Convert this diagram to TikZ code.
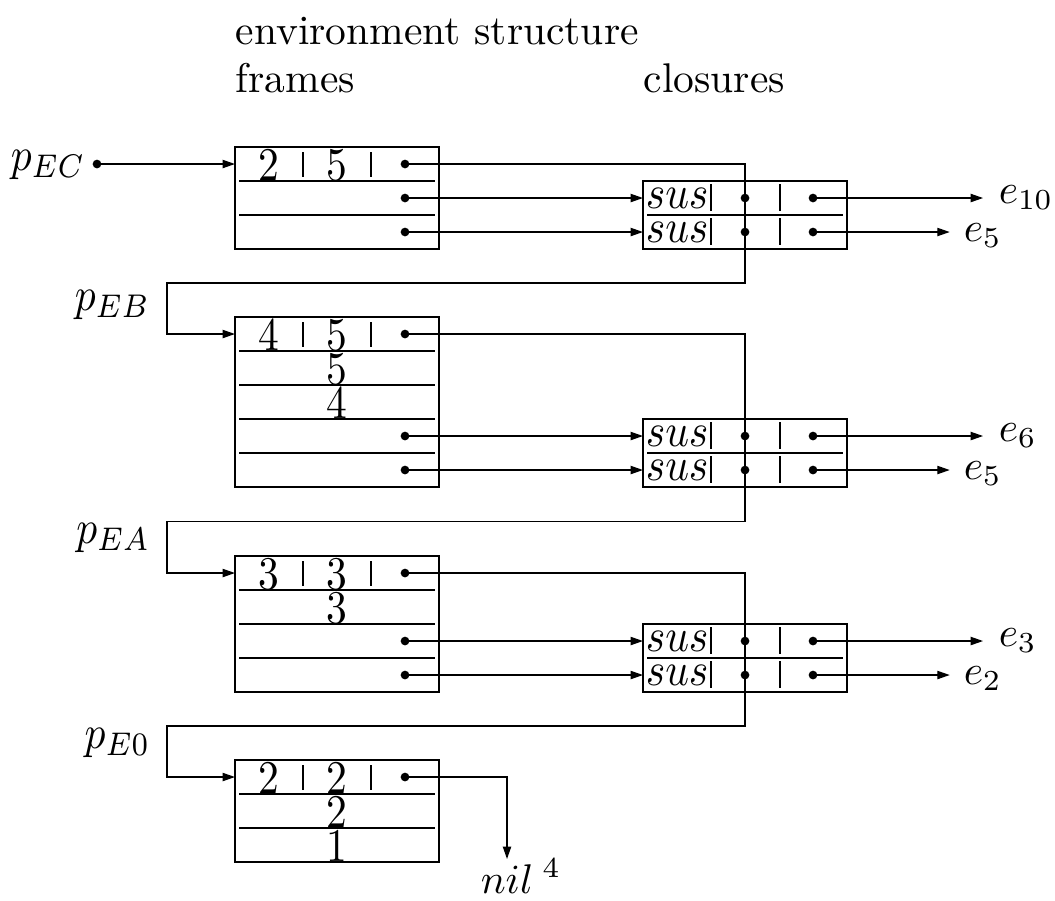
\documentclass[tikz,border=0pt]{standalone}
\usetikzlibrary{arrows.meta}
% cell entries and pointer names are set slightly taller than wide
\newcommand\tallt[1]{\scalebox{1}[1.13]{#1}}
\begin{document}
\begin{tikzpicture}[x=0.241pt, y=-0.241pt,
  recbox/.style={draw, line width=0.6pt, anchor=north west, inner sep=0pt,
                 outer sep=0pt, minimum width=204*0.241pt},
  sepline/.style={line width=0.3pt},
  conn/.style={line width=0.32pt, -{Triangle[length=3pt,width=2pt]}},
  ptdot/.style={circle, fill, inner sep=0pt, minimum size=2.1pt},
  txt/.style={inner sep=0pt, anchor=base},
  txtl/.style={inner sep=0pt, anchor=base west},
  txtr/.style={inner sep=0pt, anchor=base east},
]
\useasboundingbox (0,0) rectangle (1055,900);

% headings
\node[txtl] (hdr) at (235,44) {environment structure};
\node[txtl] (hfr) at (235,92) {frames};
\node[txtl] (hcl) at (643,92) {closures};

% environment frames
\node[recbox, minimum height=102*0.241pt] (fC) at (235,147) {};
\node[recbox, minimum height=170*0.241pt] (fB) at (235,317) {};
\node[recbox, minimum height=136*0.241pt] (fA) at (235,556) {};
\node[recbox, minimum height=102*0.241pt] (f0) at (235,760) {};

\foreach \y in {181,215,351,385,419,453,590,624,658,794,828}
  \draw[sepline] (239,\y) -- (435,\y);
\foreach \t in {147,317,556,760} {
  \draw[sepline] (303,\t+5) -- (303,\t+30);
  \draw[sepline] (371,\t+5) -- (371,\t+30);
}

% frame contents
\node[txt] (fC-n1) at (269,180.5) {\tallt{2}};
\node[txt] (fC-n2) at (337,180.5) {\tallt{5}};
\node[txt] (fB-n1) at (269,350.5) {\tallt{4}};
\node[txt] (fB-n2) at (337,350.5) {\tallt{5}};
\node[txt] (fB-n3) at (337,384.5) {\tallt{5}};
\node[txt] (fB-n4) at (337,418.5) {\tallt{4}};
\node[txt] (fA-n1) at (269,589.5) {\tallt{3}};
\node[txt] (fA-n2) at (337,589.5) {\tallt{3}};
\node[txt] (fA-n3) at (337,623.5) {\tallt{3}};
\node[txt] (f0-n1) at (269,793.5) {\tallt{2}};
\node[txt] (f0-n2) at (337,793.5) {\tallt{2}};
\node[txt] (f0-n3) at (337,827.5) {\tallt{2}};
\node[txt] (f0-n4) at (337,861.5) {\tallt{1}};

\node[ptdot] (fC-p1) at (405,164) {};
\node[ptdot] (fC-p2) at (405,198) {};
\node[ptdot] (fC-p3) at (405,232) {};
\node[ptdot] (fB-p1) at (405,334) {};
\node[ptdot] (fB-p4) at (405,436) {};
\node[ptdot] (fB-p5) at (405,470) {};
\node[ptdot] (fA-p1) at (405,573) {};
\node[ptdot] (fA-p3) at (405,641) {};
\node[ptdot] (fA-p4) at (405,675) {};
\node[ptdot] (f0-p1) at (405,777) {};

% closures
\node[recbox, minimum height=68*0.241pt] (cC) at (643,181) {};
\node[recbox, minimum height=68*0.241pt] (cB) at (643,419) {};
\node[recbox, minimum height=68*0.241pt] (cA) at (643,624) {};
\foreach \y in {215,453,658}
  \draw[sepline] (647,\y) -- (843,\y);
\foreach \t in {181,215,419,453,624,658} {
  \draw[sepline] (711,\t+3) -- (711,\t+30);
  \draw[sepline] (780,\t+3) -- (780,\t+30);
  \node[txtl] at (645,\t+27) {\tallt{$sus$}};
}
\node[ptdot] (cC-a1) at (745,198) {};
\node[ptdot] (cC-b1) at (813,198) {};
\node[ptdot] (cC-a2) at (745,232) {};
\node[ptdot] (cC-b2) at (813,232) {};
\node[ptdot] (cB-a1) at (745,436) {};
\node[ptdot] (cB-b1) at (813,436) {};
\node[ptdot] (cB-a2) at (745,470) {};
\node[ptdot] (cB-b2) at (813,470) {};
\node[ptdot] (cA-a1) at (745,641) {};
\node[ptdot] (cA-b1) at (813,641) {};
\node[ptdot] (cA-a2) at (745,675) {};
\node[ptdot] (cA-b2) at (813,675) {};

% pointer labels
\node[txtl] (pEC) at (10,170) {\tallt{$p_{EC}$}};
\node[ptdot] (pEC-d) at (97,164) {};
\node[txtr] (pEB) at (151,310) {\tallt{$p_{EB}$}};
\node[txtr] (pEA) at (151,543) {\tallt{$p_{EA}$}};
\node[txtr] (pE0) at (151,748) {\tallt{$p_{E0}$}};

% expression labels
\node[txtl] (e10) at (998,203) {$e_{10}$};
\node[txtl] (e5a) at (963,241.5) {$e_5$};
\node[txtl] (e6)  at (998,441) {$e_6$};
\node[txtl] (e5b) at (963,479.5) {$e_5$};
\node[txtl] (e3)  at (998,646) {$e_3$};
\node[txtl] (e2)  at (963,684.5) {$e_2$};
\node[txtl] (nil) at (480,893) {$nil^{\;4}$};
\coordinate (nil-in) at (507,859);

% pointer into the first frame
\draw[conn] (pEC-d.center) -- (fC.west |- pEC-d.center);

% static links between frames
\draw[conn] (fC-p1.center) -- (745,164) -- (745,283) -- (167,283) -- (167,334)
            -- (fB.west |- fB-p1.center);
\draw[conn] (fB-p1.center) -- (745,334) -- (745,521.5) -- (167,521.5) -- (167,573)
            -- (fA.west |- fA-p1.center);
\draw[conn] (fA-p1.center) -- (745,573) -- (745,726) -- (167,726) -- (167,777)
            -- (f0.west |- f0-p1.center);
\draw[conn] (f0-p1.center) -| (nil-in);

% frame slots to closures
\draw[conn] (fC-p2.center) -- (cC.west |- fC-p2.center);
\draw[conn] (fC-p3.center) -- (cC.west |- fC-p3.center);
\draw[conn] (fB-p4.center) -- (cB.west |- fB-p4.center);
\draw[conn] (fB-p5.center) -- (cB.west |- fB-p5.center);
\draw[conn] (fA-p3.center) -- (cA.west |- fA-p3.center);
\draw[conn] (fA-p4.center) -- (cA.west |- fA-p4.center);

% closures to their expressions
\draw[conn, shorten >=3.6pt] (cC-b1.center) -- (e10.west |- cC-b1.center);
\draw[conn, shorten >=3.2pt] (cC-b2.center) -- (e5a.west |- cC-b2.center);
\draw[conn, shorten >=3.6pt] (cB-b1.center) -- (e6.west |- cB-b1.center);
\draw[conn, shorten >=3.2pt] (cB-b2.center) -- (e5b.west |- cB-b2.center);
\draw[conn, shorten >=3.6pt] (cA-b1.center) -- (e3.west |- cA-b1.center);
\draw[conn, shorten >=3.2pt] (cA-b2.center) -- (e2.west |- cA-b2.center);
\end{tikzpicture}
\end{document}
